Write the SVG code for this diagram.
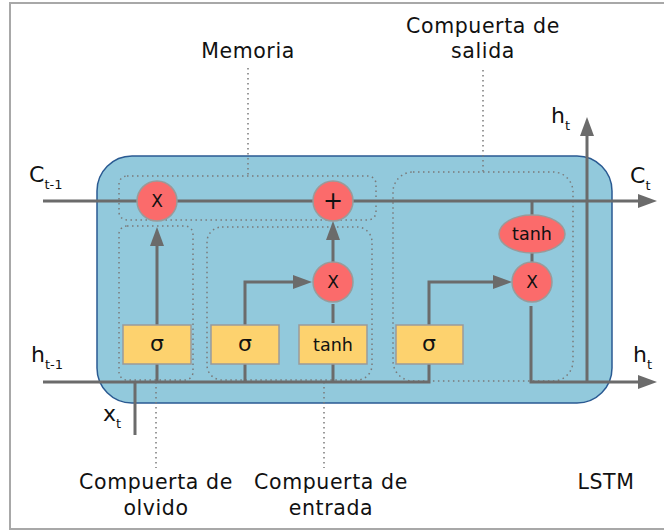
<svg xmlns="http://www.w3.org/2000/svg" width="664" height="531" viewBox="0 0 664 531">
  <style>
    .lbl { font-family: "DejaVu Sans", "Liberation Sans", sans-serif; fill: #111; }
    .big { font-size: 20.5px; letter-spacing: 0.6px; }
    .sym { font-size: 22px; }
    .sub { font-size: 13px; }
    .wire { fill: none; stroke: #6b6b6b; stroke-width: 3; }
    .dot { fill: none; stroke: #7a7a7a; stroke-width: 1.5; stroke-dasharray: 1.5 3.5; }
    .op { fill: #fb6b6b; stroke: #9a9a9a; stroke-width: 1.5; }
    .gate { fill: #fdd26e; stroke: #9a9a9a; stroke-width: 1.5; }
    .ntxt { font-family: "DejaVu Sans", "Liberation Sans", sans-serif; fill: #111; text-anchor: middle; }
  </style>
  <defs>
    <marker id="head" markerUnits="userSpaceOnUse" markerWidth="19" markerHeight="14" refX="0" refY="7" orient="auto">
      <path d="M0,0 L19,7 L0,14 Z" fill="#6b6b6b"/>
    </marker>
  </defs>

  <!-- outer frame -->
  <rect x="10" y="3" width="662" height="526" fill="#fff" stroke="#a8a8a8" stroke-width="2"/>

  <!-- cell body -->
  <rect id="cell" x="97" y="156" width="515" height="247" rx="35" ry="35" fill="#92c9dc" stroke="#2a5a92" stroke-width="1.5"/>

  <!-- gate regions -->
  <g id="regions">
    <rect class="dot" x="119" y="176" width="257" height="44" rx="8"/>
    <rect class="dot" x="119" y="226" width="74" height="154" rx="8"/>
    <rect class="dot" x="207" y="227" width="165" height="153" rx="15"/>
    <rect class="dot" x="393" y="172" width="180" height="209" rx="20"/>
    <path class="dot" d="M248,68 V176 M483,70 V172 M156,382 V468 M324,382 V468"/>
  </g>

  <!-- connectors -->
  <g id="connectors">
    <path class="wire" d="M43,201 H638" marker-end="url(#head)"/>
    <path class="wire" d="M43,382 H429 V364"/>
    <path class="wire" d="M135,435 V382"/>
    <path class="wire" d="M157,364 V382"/>
    <path class="wire" d="M157,325 V246" marker-end="url(#head)"/>
    <path class="wire" d="M245,364 V382"/>
    <path class="wire" d="M245,325 V282 H293" marker-end="url(#head)"/>
    <path class="wire" d="M333,364 V382"/>
    <path class="wire" d="M333,323 V304"/>
    <path class="wire" d="M333,262 V240" marker-end="url(#head)"/>
    <path class="wire" d="M429,325 V282 H493" marker-end="url(#head)"/>
    <path class="wire" d="M532,201 V216"/>
    <path class="wire" d="M532,252 V263"/>
    <path class="wire" d="M531,306 V382 H638" marker-end="url(#head)"/>
    <path class="wire" d="M587,381 V136" marker-end="url(#head)"/>
  </g>

  <!-- operators -->
  <g id="forget-mul"><circle class="op" cx="157" cy="201" r="20"/><text class="ntxt" x="157" y="207" font-size="17">X</text></g>
  <g id="mem-add"><circle class="op" cx="333" cy="201" r="20"/><text class="ntxt" x="333" y="209" font-size="24">+</text></g>
  <g id="input-mul"><circle class="op" cx="333" cy="282" r="20"/><text class="ntxt" x="333" y="288" font-size="17">X</text></g>
  <g id="output-mul"><circle class="op" cx="532" cy="282" r="20"/><text class="ntxt" x="532" y="288" font-size="17">X</text></g>
  <g id="output-tanh"><ellipse class="op" cx="532" cy="234" rx="33" ry="19"/><text class="ntxt" x="532" y="240" font-size="17.5">tanh</text></g>

  <!-- gate layers -->
  <g id="forget-sigma"><rect class="gate" x="123" y="325" width="68" height="39"/><text class="ntxt" x="157" y="351" font-size="22">σ</text></g>
  <g id="input-sigma"><rect class="gate" x="211" y="325" width="68" height="39"/><text class="ntxt" x="245" y="351" font-size="22">σ</text></g>
  <g id="input-tanh"><rect class="gate" x="299" y="325" width="68" height="39"/><text class="ntxt" x="333" y="351" font-size="17.5">tanh</text></g>
  <g id="output-sigma"><rect class="gate" x="396" y="325" width="67" height="39"/><text class="ntxt" x="429" y="351" font-size="22">σ</text></g>

  <!-- signal labels -->
  <g id="signals" class="lbl">
    <text x="29" y="182" class="sym">C<tspan class="sub" dy="7">t-1</tspan></text>
    <text x="31" y="362" class="sym">h<tspan class="sub" dy="7">t-1</tspan></text>
    <text x="103" y="421" class="sym">x<tspan class="sub" dy="7">t</tspan></text>
    <text x="630" y="183" class="sym">C<tspan class="sub" dy="7">t</tspan></text>
    <text x="633" y="362" class="sym">h<tspan class="sub" dy="7">t</tspan></text>
    <text x="551" y="123" class="sym">h<tspan class="sub" dy="7">t</tspan></text>
  </g>

  <!-- captions -->
  <g id="captions" class="lbl big" text-anchor="middle">
    <text x="248" y="58">Memoria</text>
    <text x="483" y="33">Compuerta de</text>
    <text x="483" y="58">salida</text>
    <text x="156" y="489">Compuerta de</text>
    <text x="156" y="515">olvido</text>
    <text x="331" y="489">Compuerta de</text>
    <text x="331" y="515">entrada</text>
    <text x="606" y="489">LSTM</text>
  </g>
</svg>
